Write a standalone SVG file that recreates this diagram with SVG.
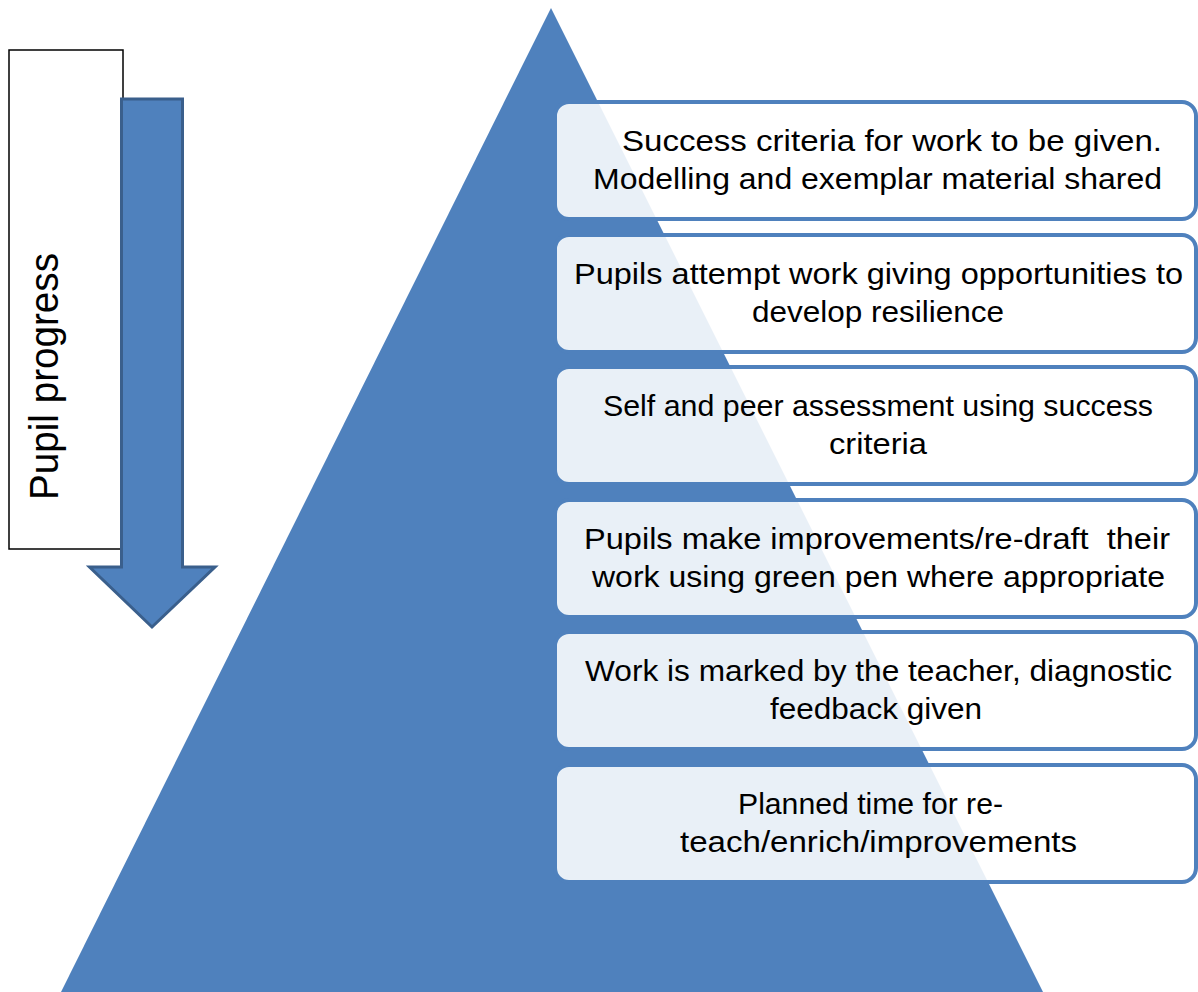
<svg xmlns="http://www.w3.org/2000/svg" width="1198" height="992" viewBox="0 0 1198 992">
  <style>
    .step rect { fill: #ffffff; fill-opacity: 0.88; stroke: #4f81bd; stroke-width: 4; }
    .step text, .label text { font-family: "Liberation Sans", Arial, sans-serif; fill: #000000; }
    .step text { font-size: 29px; text-anchor: middle; }
  </style>
  <rect width="1198" height="992" fill="#ffffff"/>

  <!-- background pyramid -->
  <g id="pyramid">
    <polygon points="551,8 1043,992 61,992" fill="#4f81bd"/>
  </g>

  <!-- vertical label -->
  <g id="label" class="label">
    <rect x="9" y="50" width="114" height="499" fill="#ffffff" stroke="#000000" stroke-width="1.5"/>
    <text transform="translate(58,376.5) rotate(-90)" font-size="40" text-anchor="middle" textLength="247" lengthAdjust="spacingAndGlyphs">Pupil progress</text>
  </g>

  <!-- downward progress arrow -->
  <g id="progress-arrow">
    <path d="M121.5,99 L182.5,99 L182.5,567 L215,567 L152,627 L89.5,567 L121.5,567 Z" fill="#4f81bd" stroke="#3a5f8c" stroke-width="3" stroke-linejoin="miter"/>
  </g>

  <!-- step boxes -->
  <g id="step-1" class="step">
    <rect x="555" y="102" width="641" height="117" rx="14"/>
    <text x="892" y="151" textLength="540" lengthAdjust="spacingAndGlyphs">Success criteria for work to be given.</text>
    <text x="877.5" y="189" textLength="569" lengthAdjust="spacingAndGlyphs">Modelling and exemplar material shared</text>
  </g>
  <g id="step-2" class="step">
    <rect x="555" y="235" width="641" height="117" rx="14"/>
    <text x="878.5" y="284" textLength="609" lengthAdjust="spacingAndGlyphs">Pupils attempt work giving opportunities to</text>
    <text x="878" y="322" textLength="252" lengthAdjust="spacingAndGlyphs">develop resilience</text>
  </g>
  <g id="step-3" class="step">
    <rect x="555" y="367" width="641" height="117" rx="14"/>
    <text x="878" y="416" textLength="550" lengthAdjust="spacingAndGlyphs">Self and peer assessment using success</text>
    <text x="878" y="454" textLength="98" lengthAdjust="spacingAndGlyphs">criteria</text>
  </g>
  <g id="step-4" class="step">
    <rect x="555" y="500" width="641" height="117" rx="14"/>
    <text x="877" y="549" textLength="586" lengthAdjust="spacingAndGlyphs" style="white-space:pre">Pupils make improvements/re-draft  their</text>
    <text x="878.5" y="587" textLength="573" lengthAdjust="spacingAndGlyphs">work using green pen where appropriate</text>
  </g>
  <g id="step-5" class="step">
    <rect x="555" y="632" width="641" height="117" rx="14"/>
    <text x="878.5" y="681" textLength="587" lengthAdjust="spacingAndGlyphs">Work is marked by the teacher, diagnostic</text>
    <text x="876" y="719" textLength="212" lengthAdjust="spacingAndGlyphs">feedback given</text>
  </g>
  <g id="step-6" class="step">
    <rect x="555" y="765" width="641" height="117" rx="14"/>
    <text x="870.5" y="814" textLength="265" lengthAdjust="spacingAndGlyphs">Planned time for re-</text>
    <text x="878.5" y="852" textLength="397" lengthAdjust="spacingAndGlyphs">teach/enrich/improvements</text>
  </g>
</svg>
